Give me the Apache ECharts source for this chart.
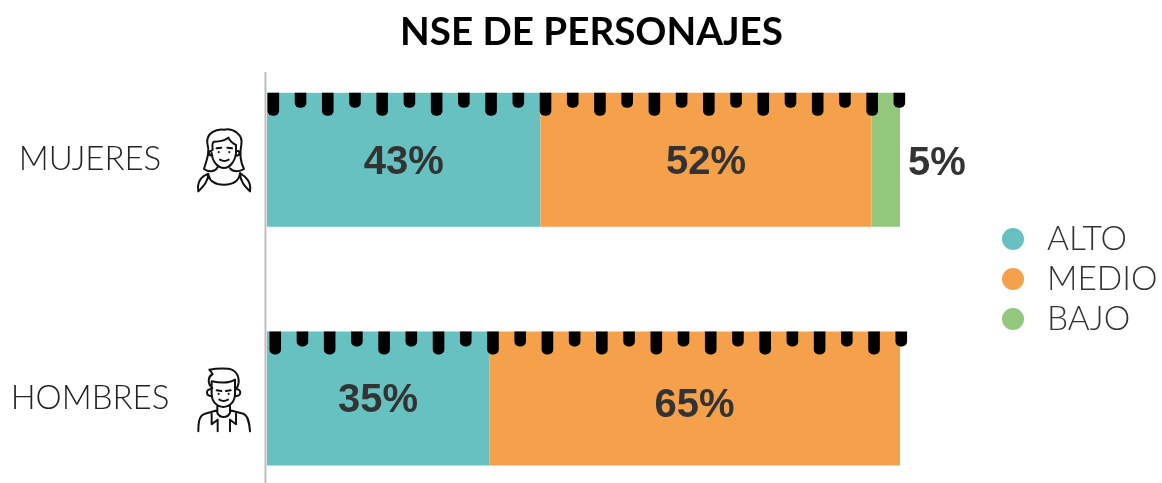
<!DOCTYPE html>
<html>
<head>
<meta charset="utf-8">
<style>
html, body { margin: 0; padding: 0; background: #fff; }
#main { width: 1162px; height: 483px; }
</style>
<script src="https://cdn.jsdelivr.net/npm/echarts@6/dist/echarts.min.js"></script>
</head>
<body>
<div id="main"></div>
<script>
var categories = ['MUJERES', 'HOMBRES'];
var alto = [43.2, 35.1];
var medio = [52.3, 64.9];
var bajo = [4.5, 0];
// posicion de las marcas negras sobre cada barra (en % del eje)
var mujeresTicks = [1.0, 5.3, 9.6, 13.9, 18.2, 22.5, 26.8, 31.1, 35.4, 39.7, 44.0, 48.3,
    52.6, 56.9, 61.2, 65.5, 69.8, 74.1, 78.4, 82.7, 87.0, 91.3, 95.6, 99.9];
var hombresTicks = [1.3, 5.6, 9.9, 14.2, 18.5, 22.8, 27.1, 31.4, 35.7, 40.0, 44.3, 48.6,
    52.9, 57.2, 61.5, 65.8, 70.1, 74.4, 78.7, 83.0, 87.3, 91.6, 95.9, 100.2];

var BAR_HEIGHT = 134;
var labelFont = '"Liberation Sans", Arial, sans-serif';
var lightFont = 'Lato, "Open Sans", sans-serif';

// iconos de persona
var womanIcon = 'M72 298C80 270 90 250 82 220C78 190 110 176 132 180C160 175 190 195 184 225C178 255 180 275 192 298C180 306 160 308 150 296' +
    'M72 298C85 308 105 308 112 294' +
    'M98 240C96 225 98 218 102 216C125 215 140 208 145 204C150 215 160 222 168 226V250C165 278 147 295 132 295C115 295 97 278 95 250' +
    'M85 315C90 338 110 345 132 345C155 345 176 336 180 312' +
    'M55 365C50 335 65 320 85 312C85 335 70 350 55 365' +
    'M210 365C215 335 195 320 180 310C180 335 195 350 210 365' +
    'M110 236L124 234M142 234L156 236M116 247V248M148 247V248M120 270Q133 278 146 270' +
    'M95 243C84 243 84 258 97 258M170 243C182 243 182 258 168 258';
var manIcon = 'M97 205C80 190 85 170 98 163L88 150C110 146 145 145 155 150C178 160 182 190 168 208' +
    'M95 185C120 190 150 190 165 180V222C165 245 150 262 130 262C110 262 95 245 95 222Z' +
    'M95 208C76 208 76 228 96 230M166 208C186 208 186 228 165 230' +
    'M112 258V280C120 296 142 296 150 280V258' +
    'M55 335C55 300 60 287 75 282L112 272M150 272L190 282C205 290 208 310 210 335' +
    'M95 282V314L113 300V335M168 282V314L150 300V335' +
    'M110 212L124 214M138 214L152 212M116 222V223M146 222V223M118 240Q131 248 144 240';

function iconImage(path) {
    var svg = '<svg xmlns="http://www.w3.org/2000/svg" width="100" height="130" viewBox="30 130 240 312">' +
        '<path d="' + path + '" fill="none" stroke="#111" stroke-width="6" stroke-linecap="round" stroke-linejoin="round"/></svg>';
    return 'data:image/svg+xml;charset=utf-8,' + encodeURIComponent(svg);
}

function pctLabel(params) {
    return params.value > 0 ? Math.round(params.value) + '%' : '';
}

// labelOffsets: desplazamiento vertical de la etiqueta en cada barra
function barSeries(name, values, color, labelOffsets) {
    return {
        name: name,
        type: 'bar',
        stack: 'nse',
        barWidth: BAR_HEIGHT,
        data: values.map(function(v, i) {
            return { value: v, label: { offset: [0, labelOffsets[i]] } };
        }),
        itemStyle: { color: color },
        label: {
            show: true,
            position: 'inside',
            formatter: pctLabel,
            color: '#333333',
            fontFamily: labelFont,
            fontWeight: 'bold',
            fontSize: 40
        }
    };
}

// las marcas alternan largas y cortas
function renderTick(params, api) {
    var p = api.coord([api.value(0), api.value(1)]);
    var top = p[1] - BAR_HEIGHT / 2;
    var len = api.value(2) % 2 === 0 ? 23 : 15;
    return {
        type: 'rect',
        shape: { x: p[0] - 5.8, y: top, width: 11.6, height: len, r: [0, 0, 5, 5] },
        style: { fill: '#000000' }
    };
}

var tickData = [];
mujeresTicks.forEach(function(v, i) {
    tickData.push([v, 0, i]);
});
hombresTicks.forEach(function(v, i) {
    tickData.push([v, 1, i]);
});

var greenSeries = barSeries('BAJO', bajo, '#93C77B', [4, 0]);
greenSeries.label.position = 'right';
greenSeries.label.distance = 8;

var option = {
    animation: false,
    backgroundColor: '#ffffff',
    title: {
        text: 'NSE DE PERSONAJES',
        left: 395,
        top: 8,
        textStyle: {
            fontFamily: 'Lato, sans-serif',
            fontWeight: 'bold',
            fontSize: 38.6,
            color: '#000000'
        }
    },
    legend: {
        data: ['ALTO', 'MEDIO', 'BAJO'],
        orient: 'vertical',
        left: 997,
        top: 217,
        icon: 'circle',
        itemWidth: 22,
        itemHeight: 22,
        itemGap: 6,
        textStyle: {
            fontFamily: lightFont,
            fontWeight: 300,
            fontSize: 33.5,
            color: '#333333',
            padding: [0, 0, 0, 18]
        }
    },
    // la rejilla sobrepasa el lienzo para que las barras queden donde van
    grid: { left: 267, top: 40.4, width: 633, height: 477.5, outerBoundsMode: 'none' },
    xAxis: { type: 'value', min: 0, max: 100, show: false },
    yAxis: {
        type: 'category',
        inverse: true,
        data: categories,
        axisLine: { show: false },
        axisTick: { show: false },
        axisLabel: {
            align: 'center',
            margin: 177,
            fontFamily: lightFont,
            fontWeight: 300,
            fontSize: 33,
            color: '#222222'
        }
    },
    series: [
        barSeries('ALTO', alto, '#67C1C1', [3, 2]),
        barSeries('MEDIO', medio, '#F5A04A', [3, 7]),
        greenSeries,
        {
            type: 'custom',
            name: 'marcas',
            renderItem: renderTick,
            encode: { x: 0, y: 1 },
            data: tickData,
            z: 5,
            clip: false,
            silent: true
        }
    ],
    graphic: [
        {
            type: 'line',
            shape: { x1: 265.5, y1: 72, x2: 265.5, y2: 483 },
            style: { stroke: '#BDBDBD', lineWidth: 2 },
            z: 10
        },
        {
            type: 'image',
            style: { image: iconImage(womanIcon), x: 190, y: 113, width: 80, height: 104 }
        },
        {
            type: 'image',
            style: { image: iconImage(manIcon), x: 190, y: 363, width: 80, height: 104 }
        }
    ]
};

echarts.init(document.getElementById('main')).setOption(option);
</script>
</body>
</html>
